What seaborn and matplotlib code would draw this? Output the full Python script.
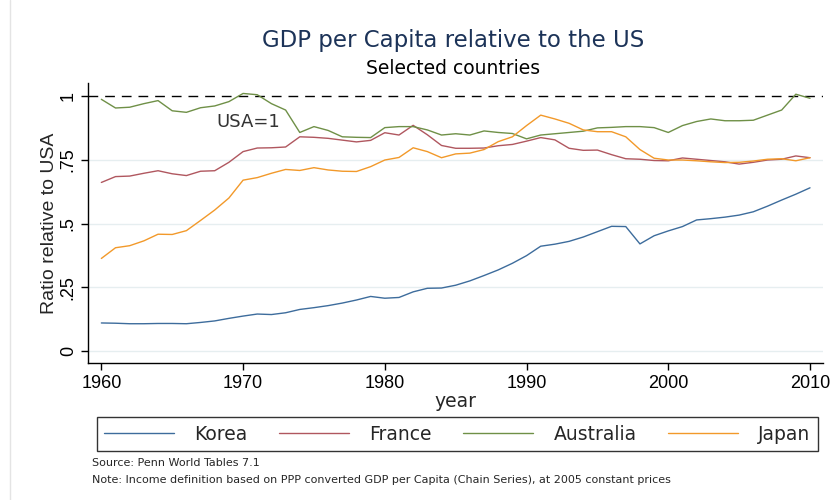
import matplotlib
matplotlib.use("Agg")
import matplotlib.pyplot as plt
import numpy as np
import pandas as pd
import seaborn as sns
from matplotlib.lines import Line2D

years = list(range(1960, 2011))

korea = [0.110, 0.109, 0.107, 0.107, 0.108, 0.108, 0.107, 0.112, 0.118, 0.128,
         0.137, 0.145, 0.143, 0.150, 0.163, 0.170, 0.178, 0.188, 0.200, 0.214,
         0.207, 0.210, 0.232, 0.246, 0.247, 0.258, 0.275, 0.296, 0.318, 0.344,
         0.374, 0.411, 0.419, 0.430, 0.447, 0.468, 0.489, 0.488, 0.420, 0.452,
         0.471, 0.488, 0.514, 0.519, 0.525, 0.533, 0.546, 0.568, 0.592, 0.615,
         0.640]
france = [0.661, 0.684, 0.686, 0.697, 0.707, 0.695, 0.688, 0.705, 0.707, 0.740,
          0.782, 0.796, 0.797, 0.800, 0.840, 0.838, 0.834, 0.827, 0.820, 0.826,
          0.856, 0.847, 0.885, 0.848, 0.806, 0.795, 0.795, 0.796, 0.805, 0.810,
          0.823, 0.837, 0.828, 0.795, 0.787, 0.788, 0.770, 0.754, 0.752, 0.747,
          0.746, 0.757, 0.752, 0.747, 0.742, 0.733, 0.740, 0.749, 0.752, 0.765,
          0.758]
australia = [0.987, 0.953, 0.956, 0.970, 0.982, 0.942, 0.936, 0.954, 0.961, 0.978,
             1.010, 1.005, 0.970, 0.945, 0.857, 0.880, 0.865, 0.840, 0.838, 0.837,
             0.876, 0.880, 0.880, 0.867, 0.847, 0.852, 0.847, 0.863, 0.857, 0.853,
             0.832, 0.847, 0.852, 0.857, 0.862, 0.875, 0.877, 0.880, 0.880, 0.876,
             0.857, 0.884, 0.900, 0.910, 0.903, 0.903, 0.905, 0.925, 0.945, 1.007,
             0.991]
japan = [0.363, 0.405, 0.413, 0.432, 0.458, 0.457, 0.472, 0.512, 0.553, 0.600,
         0.670, 0.680, 0.697, 0.712, 0.708, 0.719, 0.710, 0.705, 0.704, 0.723,
         0.749, 0.759, 0.797, 0.782, 0.758, 0.773, 0.776, 0.790, 0.821, 0.840,
         0.884, 0.925, 0.910, 0.893, 0.867, 0.860, 0.860, 0.840, 0.790, 0.756,
         0.749, 0.749, 0.746, 0.742, 0.739, 0.740, 0.745, 0.752, 0.754, 0.746,
         0.758]

countries = ["Korea", "France", "Australia", "Japan"]
colors = ["#3d6c9c", "#b0575f", "#6f9047", "#f2992a"]
y_ticks = [0, 0.25, 0.5, 0.75]
y_labels = ["0", ".25", ".5", ".75", "1"]
x_ticks = [1960, 1970, 1980, 1990, 2000, 2010]

df = pd.DataFrame({
    "year": years * 4,
    "ratio": korea + france + australia + japan,
    "country": np.repeat(countries, len(years)),
})

sns.set_theme(style="white")
plt.rcParams["font.family"] = ["Liberation Sans", "DejaVu Sans"]
WIDE = ["DejaVu Sans"]

fig = plt.figure(figsize=(8.37, 5.0), dpi=100)
ax = fig.add_axes([0.105, 0.274, 0.878, 0.56])

for y in y_ticks:
    ax.axhline(y, color="#e6eef0", lw=1.0, zorder=0)
ax.axhline(1, color="black", lw=1.0, ls=(0, (7, 5)), zorder=1)

sns.lineplot(data=df, x="year", y="ratio", hue="country", hue_order=countries,
             palette=colors, linewidth=1.0, ax=ax, legend=False)

ax.text(1968.15, 0.898, "USA=1", fontsize=13, color="#333333", va="center",
        family=WIDE)

ax.set_xlim(1959.05, 2010.9)
ax.set_ylim(-0.047, 1.051)
ax.set_xticks(x_ticks)
ax.set_yticks(y_ticks + [1])
ax.set_yticklabels(y_labels, rotation=90, va="center")
ax.tick_params(axis="both", direction="out", length=5, width=1, labelsize=13,
               colors="black", bottom=True, left=True)
ax.tick_params(axis="y", pad=3)
for s in ["top", "right"]:
    ax.spines[s].set_visible(False)
for s in ["left", "bottom"]:
    ax.spines[s].set_color("black")
    ax.spines[s].set_linewidth(1.0)
ax.set_xlabel("year", fontsize=13.5, labelpad=0, family=WIDE)
ax.set_ylabel("Ratio relative to USA", fontsize=14, labelpad=1)

fig.text(0.541, 0.919, "GDP per Capita relative to the US", ha="center",
         va="center", fontsize=16.5, color="#1c3358", family=WIDE)
fig.text(0.541, 0.863, "Selected countries", ha="center", va="center",
         fontsize=13.5, color="black", family=WIDE)

handles = [Line2D([0], [0], color=c, lw=1.0) for c in colors]
leg = fig.legend(handles, countries, loc="lower left", ncol=4, mode="expand",
                 bbox_to_anchor=(97 / 837, 49 / 500, 721 / 837, 34 / 500),
                 prop={"family": WIDE, "size": 13.5}, handlelength=3.7,
                 frameon=True, fancybox=False, borderaxespad=0,
                 columnspacing=1.0, handletextpad=1.1)
leg.get_frame().set_edgecolor("black")
leg.get_frame().set_linewidth(1.0)

fig.text(92 / 837, 1 - 463 / 500, "Source: Penn World Tables 7.1",
         fontsize=8, va="center", family=WIDE)
fig.text(92 / 837, 1 - 480 / 500,
         "Note: Income definition based on PPP converted GDP per Capita "
         "(Chain Series), at 2005 constant prices", fontsize=8, va="center",
         family=WIDE)

fig.add_artist(Line2D([10 / 837, 10 / 837], [0, 1], color="#e4e4e4", lw=1.0,
                      transform=fig.transFigure))

fig.savefig("out.png", dpi=100)
